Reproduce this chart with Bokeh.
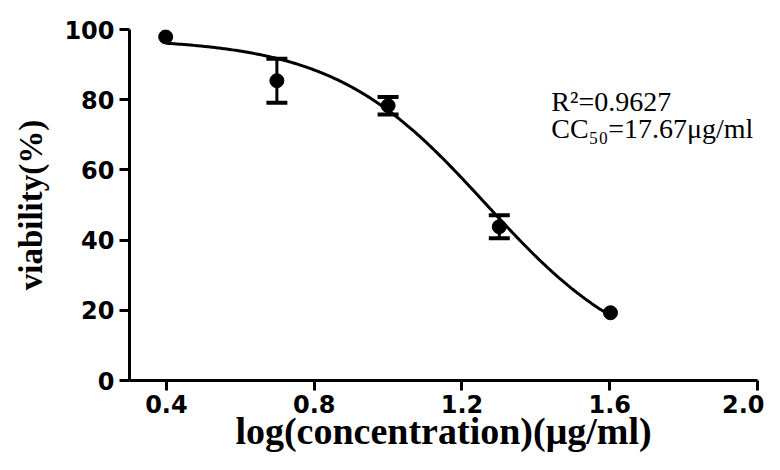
import numpy as np
from bokeh.plotting import figure
from bokeh.models import ColumnDataSource, Whisker, TeeHead, Label, FixedTicker, Range1d
from bokeh.embed import file_html
from bokeh.resources import INLINE

# ---- data ----
conc = [2.5, 5, 10, 20, 40]                 # µg/ml
viability = [97.9, 85.4, 78.3, 43.8, 19.3]  # %
sd = [0.0, 6.3, 2.5, 3.3, 0.0]
x_ticks = [0.4, 0.8, 1.2, 1.6, 2.0]
x_tick_labels = ["0.4", "0.8", "1.2", "1.6", "2.0"]
y_ticks = [0, 20, 40, 60, 80, 100]
# fitted 4-parameter logistic curve
fit_top, fit_bottom, fit_logc50, fit_hill = 97.5, 3.0, 1.265, 2.1
r2_text = "R\u00b2=0.9627"
cc50_text = "CC\u2085\u2080=17.67\u03bcg/ml"
x_title = "log(concentration)(\u03bcg/ml)"
y_title = "viability(%)"

logc = np.log10(conc)
vi = np.array(viability)
sdv = np.array(sd)
src = ColumnDataSource(dict(x=logc, y=vi))
mask = sdv > 0
err_src = ColumnDataSource(dict(x=logc[mask], up=(vi + sdv)[mask], lo=(vi - sdv)[mask]))

xs = np.linspace(logc[0], logc[-1], 300)
ys = fit_bottom + (fit_top - fit_bottom) / (1 + 10 ** (fit_hill * (xs - fit_logc50)))

p = figure(width=764, height=454, x_range=Range1d(0.3, 2.0), y_range=Range1d(0, 100),
           output_backend="svg", toolbar_location=None,
           min_border_left=129, min_border_right=7, min_border_top=29, min_border_bottom=70)
p.grid.visible = False
p.outline_line_color = None
p.background_fill_color = "white"

p.line(xs, ys, line_color="black", line_width=3)
p.add_layout(Whisker(source=err_src, base="x", upper="up", lower="lo",
                     line_color="black", line_width=3,
                     upper_head=TeeHead(size=21, line_width=4, line_color="black"),
                     lower_head=TeeHead(size=21, line_width=4, line_color="black")))
p.scatter("x", "y", source=src, size=14, color="black")

for ax in (p.xaxis[0], p.yaxis[0]):
    ax.axis_line_width = 3
    ax.major_tick_line_width = 3
    ax.major_tick_out = 10
    ax.major_tick_in = 0
    ax.minor_tick_out = 0
    ax.minor_tick_in = 0
    ax.major_label_text_font = "DejaVu Sans"
    ax.major_label_text_font_style = "bold"
    ax.major_label_text_font_size = "24px"
    ax.major_label_text_color = "black"
    ax.axis_label_text_font = "Liberation Serif"
    ax.axis_label_text_font_style = "bold"
    ax.axis_label_text_color = "black"

p.xaxis.ticker = FixedTicker(ticks=x_ticks)
p.xaxis.major_label_overrides = {t: l for t, l in zip(x_ticks, x_tick_labels)}
p.xaxis.major_label_standoff = 4
p.xaxis.axis_label = x_title
p.xaxis.axis_label_text_font_size = "38px"
p.xaxis.axis_label_standoff = -6
p.yaxis.ticker = FixedTicker(ticks=y_ticks)
p.yaxis.axis_label = y_title
p.yaxis.axis_label_text_font_size = "33px"
p.yaxis.major_label_standoff = 5
p.yaxis.axis_label_standoff = 12

for txt, yy in ((r2_text, 79.4), (cc50_text, 71.8)):
    p.add_layout(Label(x=1.442, y=yy, text=txt, text_font="Liberation Serif",
                       text_font_size="28px", text_color="black", text_baseline="alphabetic"))

open("out.html", "w").write(file_html(p, INLINE))
